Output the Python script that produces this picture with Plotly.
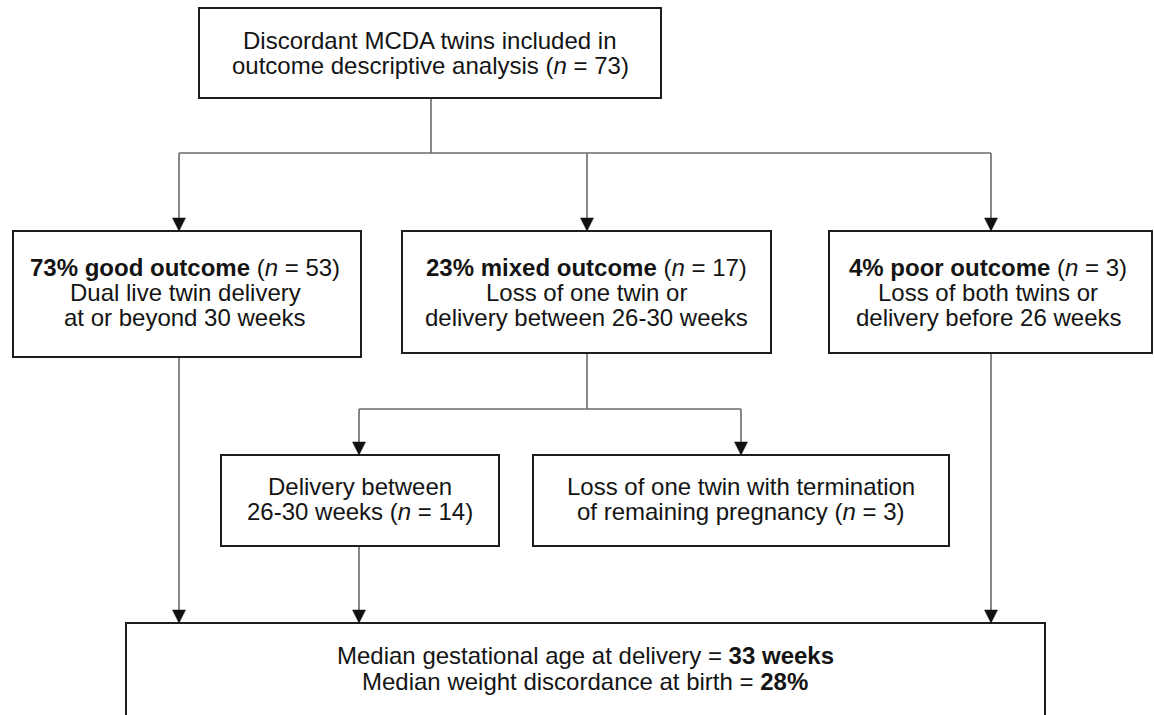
import plotly.graph_objects as go

W, H = 1154, 715
FONT = "Liberation Sans, Arial, sans-serif"

# Boxes: name -> (x0, y0, x1, y1) in pixel space
box_names = ["top", "good", "mixed", "poor", "deliv", "loss", "summary"]
box_x0 = [199, 13, 402, 829, 221, 533, 126]
box_y0 = [8, 231, 231, 231, 455, 455, 623]
box_x1 = [661, 361, 771, 1152, 499, 949, 1045]
box_y1 = [98, 357, 353, 353, 546, 546, 722]

# Text lines: (x, y, text)
text_x = [430, 430,
          185, 185, 185,
          586, 586, 586,
          988, 988, 988,
          360, 360,
          741, 741,
          585, 585]
text_y = [40, 65,
          267, 292, 317,
          267, 292, 317,
          267, 292, 317,
          486, 511,
          486, 511,
          655, 681]
text_s = [
    "Discordant MCDA twins included in",
    "outcome descriptive analysis (<i>n</i> = 73)",
    "<b>73% good outcome</b> (<i>n</i> = 53)",
    "Dual live twin delivery",
    "at or beyond 30 weeks",
    "<b>23% mixed outcome</b> (<i>n</i> = 17)",
    "Loss of one twin or",
    "delivery between 26-30 weeks",
    "<b>4% poor outcome</b> (<i>n</i> = 3)",
    "Loss of both twins or",
    "delivery before 26 weeks",
    "Delivery between",
    "26-30 weeks (<i>n</i> = 14)",
    "Loss of one twin with termination",
    "of remaining pregnancy (<i>n</i> = 3)",
    "Median gestational age at delivery = <b>33 weeks</b>",
    "Median weight discordance at birth = <b>28%</b>",
]

# Connector segments (x0, y0, x1, y1)
seg_x0 = [431, 179, 179, 587, 991, 179, 587, 359, 359, 741, 991, 359]
seg_y0 = [98, 153, 153, 153, 153, 357, 353, 409, 409, 409, 353, 546]
seg_x1 = [431, 991, 179, 587, 991, 179, 587, 741, 359, 741, 991, 359]
seg_y1 = [153, 153, 231, 231, 231, 623, 409, 409, 455, 455, 623, 623]

# Arrow tips (x, y)
arrow_x = [179, 587, 991, 179, 359, 741, 991, 359]
arrow_y = [231, 231, 231, 623, 455, 455, 623, 623]

fig = go.Figure()
shapes = []
for x0, y0, x1, y1 in zip(seg_x0, seg_y0, seg_x1, seg_y1):
    shapes.append(dict(type="line", x0=x0, y0=y0, x1=x1, y1=y1,
                       xref="x", yref="y",
                       line=dict(color="#6a6a6a", width=1.6)))
for x0, y0, x1, y1 in zip(box_x0, box_y0, box_x1, box_y1):
    shapes.append(dict(type="rect", x0=x0, y0=y0, x1=x1, y1=y1,
                       xref="x", yref="y",
                       line=dict(color="#1e1e1e", width=2),
                       fillcolor="white"))
for ax, ay in zip(arrow_x, arrow_y):
    shapes.append(dict(type="path",
                       path=f"M {ax-6.5},{ay-13} L {ax+6.5},{ay-13} L {ax},{ay} Z",
                       xref="x", yref="y",
                       line=dict(color="#111111", width=0.5),
                       fillcolor="#111111"))

annotations = []
for x, y, s in zip(text_x, text_y, text_s):
    annotations.append(dict(x=x, y=y, xref="x", yref="y", text=s,
                            showarrow=False, xanchor="center", yanchor="middle",
                            font=dict(family=FONT, size=24, color="#141414")))

fig.update_layout(
    width=W, height=H,
    margin=dict(l=0, r=0, t=0, b=0),
    paper_bgcolor="white", plot_bgcolor="white",
    shapes=shapes, annotations=annotations,
    showlegend=False,
    xaxis=dict(range=[0, W], visible=False, fixedrange=True),
    yaxis=dict(range=[H, 0], visible=False, fixedrange=True),
)
fig.write_html("out.html", config={"displayModeBar": False},
               post_script="document.body.style.margin='0px';document.body.style.overflow='hidden';")
